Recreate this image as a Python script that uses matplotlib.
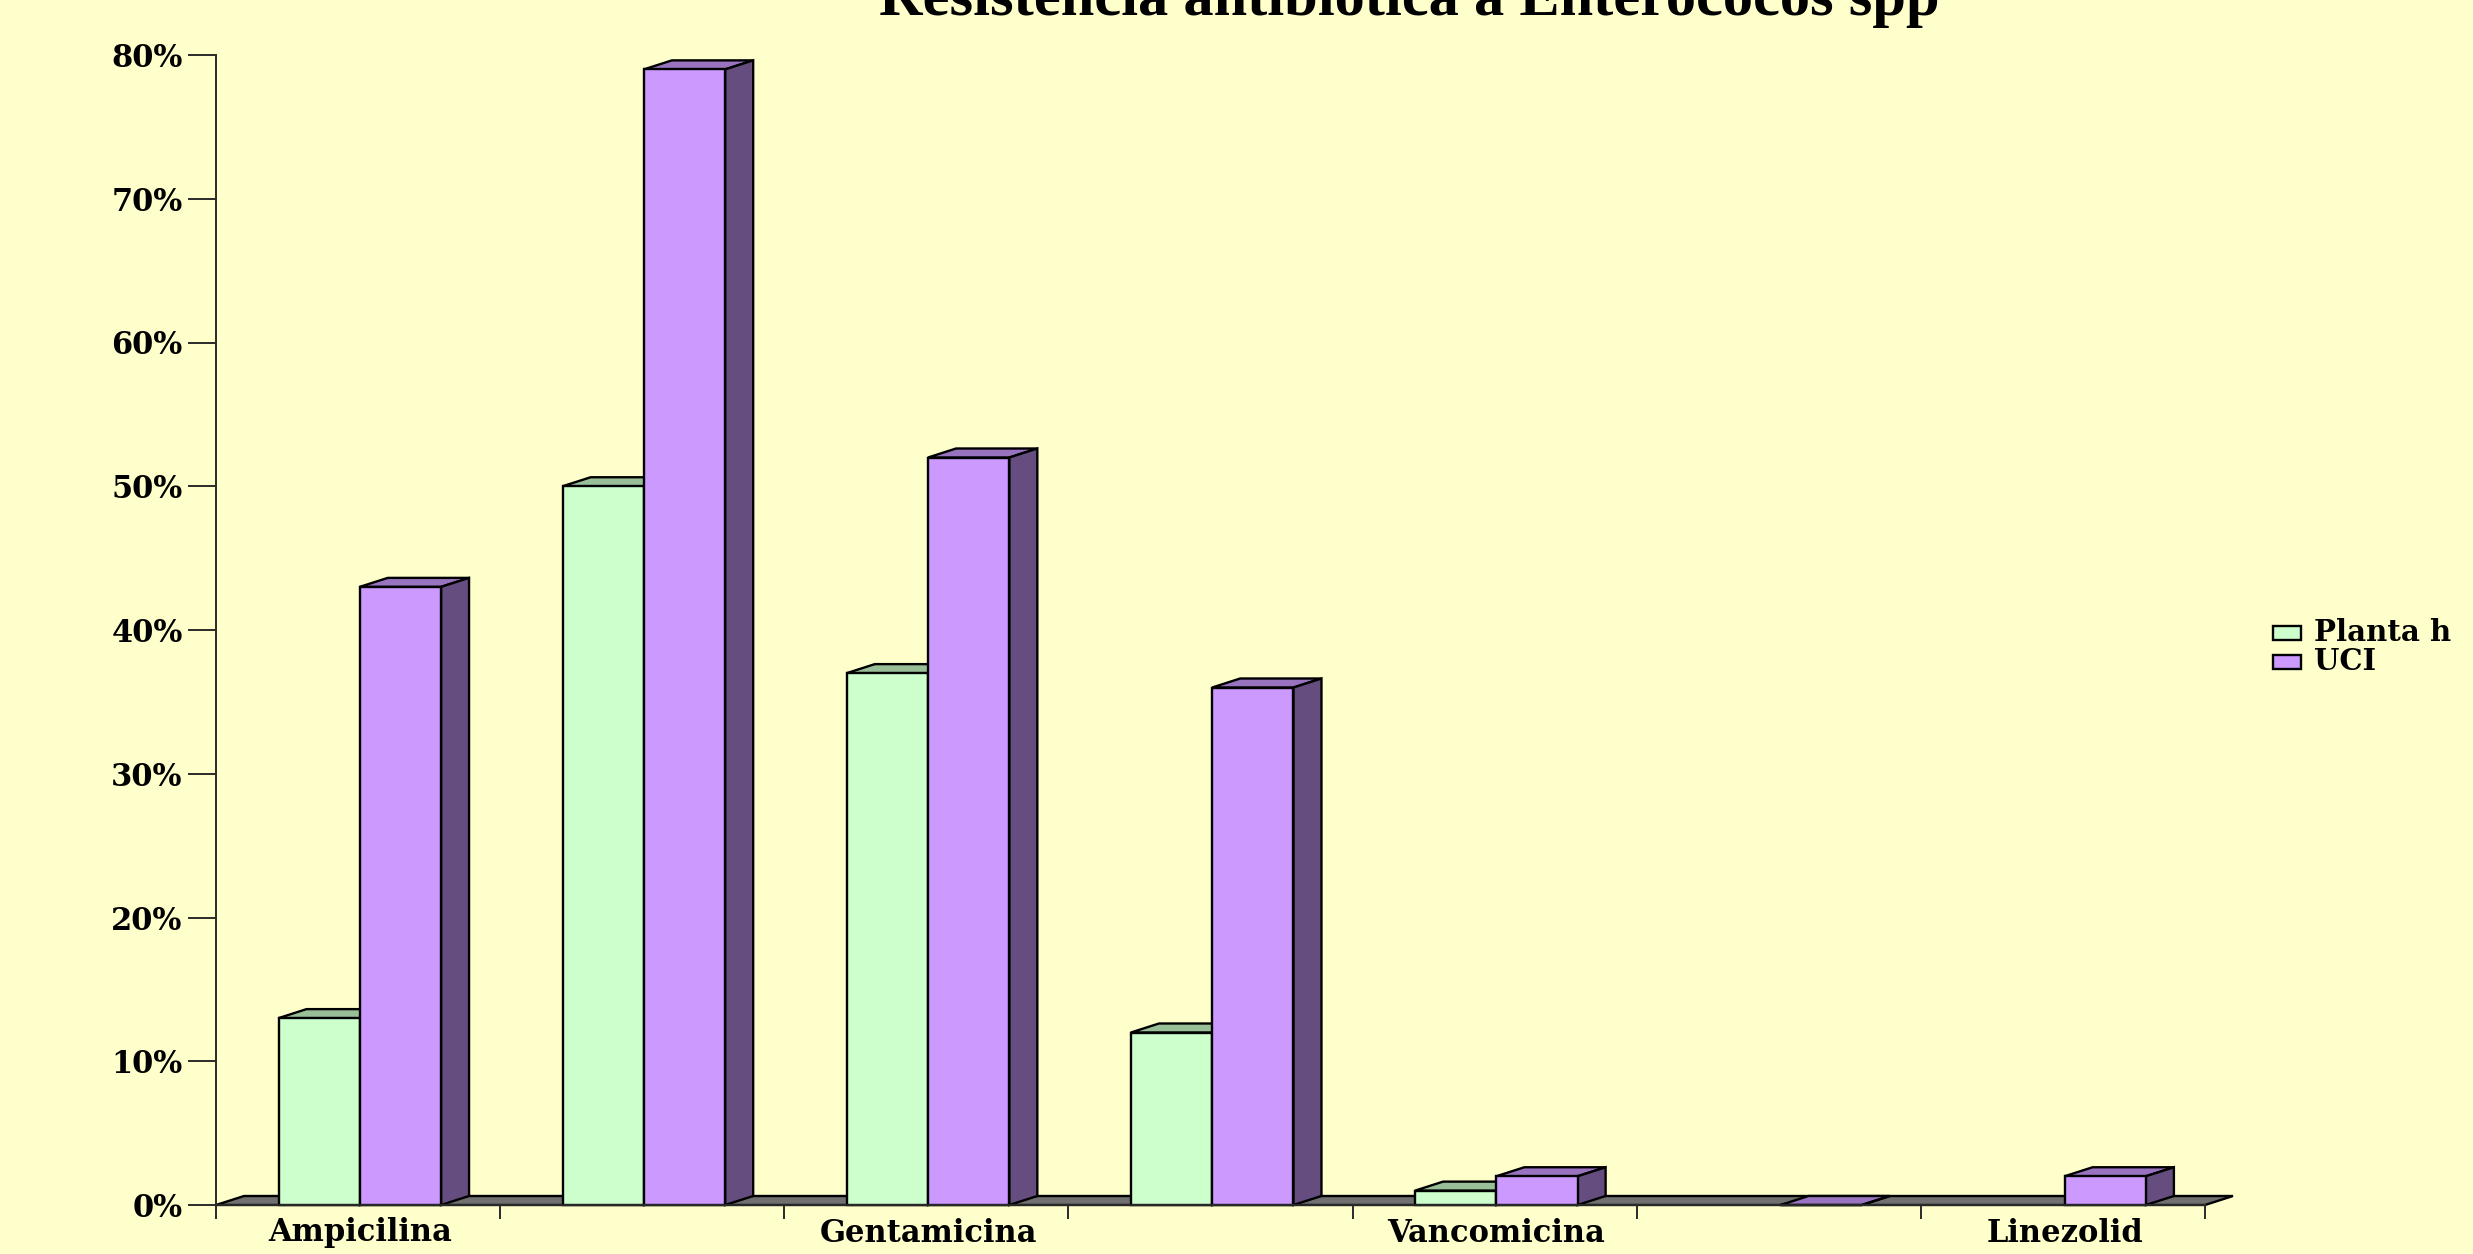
import matplotlib
matplotlib.use("Agg")
import matplotlib.pyplot as plt
from matplotlib.patches import Polygon, Rectangle
import numpy as np

# Resistance percentages per antibiotic; nan = no bar for that ward
antibiotics = ["Ampicilina", "", "Gentamicina", "", "Vancomicina", "", "Linezolid"]
planta = [13, 50, 37, 12, 1, np.nan, np.nan]
uci = [43, 79, 52, 36, 2, 0, 2]
y_ticks = [0, 10, 20, 30, 40, 50, 60, 70, 80]
y_labels = ["0%", "10%", "20%", "30%", "40%", "50%", "60%", "70%", "80%"]
series_names = ["Planta h", "UCI"]

W, H = 2473, 1254
BG = "#FFFFCC"
GREEN = ("#CCFFCC", "#99BF99", "#668066")  # front, top, side
PURPLE = ("#CC99FF", "#9973BF", "#664D80")
LW = 1.7
AXIS = "#2a2a2a"

fig = plt.figure(figsize=(W / 100, H / 100), dpi=100, facecolor=BG)
left, right, top, bottom = 216, 2205, 55, 1205
ax = fig.add_axes([left / W, 1 - bottom / H, (right - left) / W, (bottom - top) / H])
ax.set_facecolor("none")
ax.set_xlim(0, 7)
ax.set_ylim(0, 80)

# depth of the fake 3D boxes, in data units
dx = 28 / ((right - left) / 7)
dy = 9 / ((bottom - top) / 80)
bar_w = 0.286
shift = 0.006


def box(x0, x1, h, cols, z):
    ax.add_patch(Polygon([(x0, h), (x0 + dx, h + dy), (x1 + dx, h + dy), (x1, h)],
                         fc=cols[1], ec="black", lw=LW, zorder=z, clip_on=False, joinstyle="miter"))
    ax.add_patch(Polygon([(x1, 0), (x1 + dx, dy), (x1 + dx, h + dy), (x1, h)],
                         fc=cols[2], ec="black", lw=LW, zorder=z, clip_on=False, joinstyle="miter"))
    ax.bar(x0, h, width=x1 - x0, align="edge", color=cols[0], edgecolor="black",
           linewidth=LW, zorder=z + 0.1, clip_on=False)


# floor strip behind the bars
ax.add_patch(Polygon([(0, 0), (dx, dy), (7 + dx, dy), (7, 0)], fc="#707070", ec="black",
                     lw=LW, zorder=1, clip_on=False))

for i in range(7):
    c = i + 0.5 + shift
    if not np.isnan(planta[i]):
        box(c - bar_w, c, planta[i], GREEN, 2 + i)
    if not np.isnan(uci[i]):
        box(c, c + bar_w, uci[i], PURPLE, 2.5 + i)

for s in ["top", "right"]:
    ax.spines[s].set_visible(False)
for s in ["left", "bottom"]:
    ax.spines[s].set_linewidth(1.4)
    ax.spines[s].set_color(AXIS)
    ax.spines[s].set_zorder(20)

ax.set_yticks(y_ticks)
ax.set_yticklabels(y_labels, fontfamily="DejaVu Serif", fontweight="bold", fontsize=22)
ax.set_xticks(np.arange(8))
ax.set_xticklabels([])
ax.set_xticks(np.arange(7) + 0.5 + shift, minor=True)
ax.set_xticklabels(antibiotics, minor=True, fontfamily="DejaVu Serif", fontweight="bold", fontsize=22)
ax.tick_params(axis="y", length=20, width=1.4, pad=4, color=AXIS)
ax.tick_params(axis="x", which="major", length=10, width=1.4, color=AXIS)
ax.tick_params(axis="x", which="minor", length=0, pad=9)

fig.text(1409 / W, 1 - 15 / H, "Resistencia antibiótica a Enterococos spp", ha="center", va="baseline",
         fontfamily="Liberation Serif", fontweight="bold", fontsize=43.5)

# legend at the right edge
for j, (name, cols) in enumerate(zip(series_names, (GREEN, PURPLE))):
    y = 633 + j * 29
    fig.add_artist(Rectangle((2273 / W, 1 - (y + 7) / H), 28 / W, 14 / H, transform=fig.transFigure,
                             fc=cols[0], ec="black", lw=LW))
    fig.text(2314 / W, 1 - (y + 8) / H, name, va="baseline", fontfamily="DejaVu Serif",
             fontweight="bold", fontsize=21)

fig.savefig("out.png", dpi=100, facecolor=BG)
